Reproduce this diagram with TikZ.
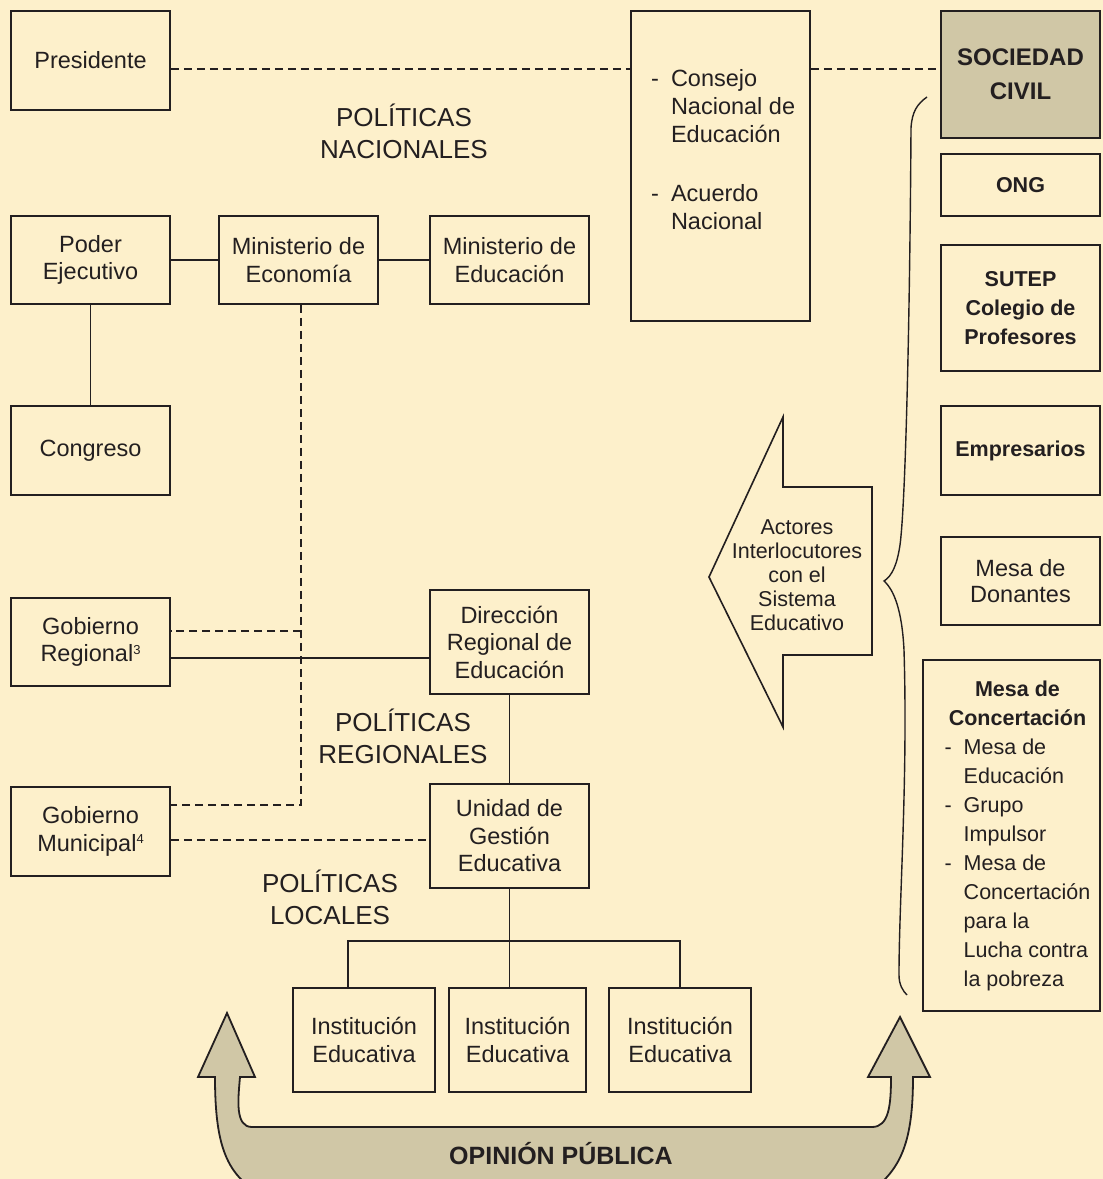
\documentclass[tikz,border=0pt]{standalone}
\usepackage{fontspec}
\setmainfont{Liberation Sans}
\definecolor{paper}{HTML}{FDF0CB}
\definecolor{khaki}{HTML}{D0C7A6}
\definecolor{ink}{HTML}{231F20}

\newcommand{\supnum}[1]{\raisebox{7.5pt}{\fontsize{13}{13}\selectfont #1}}

\tikzset{
  box/.style={draw=ink, line width=1.8pt, inner sep=0pt, align=center, text=ink,
              font=\fontsize{23.5}{27.5}\selectfont},
  boldbox/.style={box, font=\fontsize{21.5}{29}\selectfont\bfseries},
  link/.style={draw=ink, line width=1.7pt},
  dlink/.style={draw=ink, line width=1.5pt, dash pattern=on 8pt off 5pt},
  heading/.style={text=ink, align=center, inner sep=0pt, font=\fontsize{26}{32}\selectfont},
  txt/.style={text=ink, inner sep=0pt},
}

\begin{document}
\begin{tikzpicture}[x=1pt, y=-1pt]
\useasboundingbox (0,0) rectangle (1103,1179);
\fill[paper] (0,0) rectangle (1103,1179);
\clip (0,0) rectangle (1103,1179);

% ---- national level ----
\node[box, minimum width=159pt, minimum height=99pt] (pres) at (90.5,60.5) {Presidente};
\node[box, minimum width=179pt, minimum height=310pt] (consejo) at (720.5,166) {};
\node[txt, anchor=north west, font=\fontsize{23.5}{28}\selectfont] (consejotxt) at (651,67)
  {\begin{tabular}{@{}l@{\hspace{12pt}}l@{}}
   - & Consejo\\ & Nacional de\\ & Educación\\[31pt]
   - & Acuerdo\\ & Nacional
   \end{tabular}};

\node[box, minimum width=159pt, minimum height=88pt] (poder) at (90.5,260) {Poder\\Ejecutivo};
\node[box, minimum width=159pt, minimum height=88pt] (econ) at (298.5,260) {Ministerio de\\Economía};
\node[box, minimum width=159pt, minimum height=88pt] (educ) at (509.5,260) {Ministerio de\\Educación};
\node[box, minimum width=159pt, minimum height=89pt] (cong) at (90.5,450.5) {Congreso};

\node[heading] (polnac) at (404,131) {POLÍTICAS\\NACIONALES};

% ---- regional and local level ----
\node[box, minimum width=159pt, minimum height=88pt] (gobreg) at (90.5,642) {Gobierno\\Regional\supnum{3}};
\node[box, minimum width=159pt, minimum height=104pt] (dre) at (509.5,642) {Dirección\\Regional de\\Educación};
\node[box, minimum width=159pt, minimum height=89pt] (gobmun) at (90.5,831.5) {Gobierno\\Municipal\supnum{4}};
\node[box, minimum width=159pt, minimum height=104pt] (ugel) at (509.5,836) {Unidad de\\Gestión\\Educativa};

\node[heading] (polreg) at (403,736) {POLÍTICAS\\REGIONALES};
\node[heading] (polloc) at (330,897) {POLÍTICAS\\LOCALES};

\node[box, minimum width=142pt, minimum height=104pt] (ie1) at (364,1040) {Institución\\Educativa};
\node[box, minimum width=137pt, minimum height=104pt] (ie2) at (517.5,1040) {Institución\\Educativa};
\node[box, minimum width=142pt, minimum height=104pt] (ie3) at (680,1040) {Institución\\Educativa};

% ---- civil society column ----
\node[box, fill=khaki, minimum width=159pt, minimum height=127pt,
      font=\fontsize{24}{34}\selectfont\bfseries] (soc) at (1020.5,74.5) {SOCIEDAD\\CIVIL};
\node[boldbox, minimum width=159pt, minimum height=62pt] (ong) at (1020.5,185) {ONG};
\node[boldbox, minimum width=159pt, minimum height=126pt] (sutep) at (1020.5,308) {SUTEP\\Colegio de\\Profesores};
\node[boldbox, minimum width=159pt, minimum height=89pt] (emp) at (1020.5,450.5) {Empresarios};
\node[box, minimum width=159pt, minimum height=88pt, font=\fontsize{23.5}{26}\selectfont] (don) at (1020.5,581) {Mesa de\\Donantes};
\node[box, minimum width=177pt, minimum height=351pt, font=\fontsize{21.5}{29}\selectfont] (mesa) at (1011.5,835.5)
  {\begin{tabular}{@{\hspace{12pt}}l@{\hspace{12pt}}l@{}}
   \multicolumn{2}{@{\hspace{12pt}}c@{}}{\bfseries Mesa de}\\
   \multicolumn{2}{@{\hspace{12pt}}c@{}}{\bfseries Concertación}\\
   - & Mesa de\\ & Educación\\
   - & Grupo\\ & Impulsor\\
   - & Mesa de\\ & Concertación\\ & para la\\ & Lucha contra\\ & la pobreza
   \end{tabular}};

% ---- connectors ----
\draw[dlink] ([yshift=-8.5pt]pres.east) -- ([yshift=-8.5pt]pres.east -| consejo.west);
\draw[dlink] ([yshift=-8.5pt]pres.east -| consejo.east) -- ([yshift=-8.5pt]pres.east -| soc.west);

\draw[link] (poder.east) -- (econ.west);
\draw[link] (econ.east) -- (educ.west);
\draw[link] (poder.south) -- (cong.north);

\coordinate (regjoin) at (301,631);
\coordinate (munjoin) at (301,805);
\draw[dlink] ([xshift=2.5pt]econ.south) -- (munjoin) -- (munjoin -| gobmun.east);
\draw[dlink] (regjoin) -- (regjoin -| gobreg.east);

\draw[link] ([yshift=-16pt]gobreg.east) -- ([yshift=-16pt]gobreg.east -| dre.west);
\draw[dlink] ([yshift=-8.5pt]gobmun.east) -- ([yshift=-8.5pt]gobmun.east -| ugel.west);
\draw[link] (dre.south) -- (ugel.north);

\coordinate (bar) at (509.5,941);
\draw[link] (ugel.south) -- (ugel.south |- ie2.north);
\draw[link] ([xshift=-16pt]ie1.north) |- (bar) -| (ie3.north);

% ---- arrow of the interlocutors ----
\draw[ink, line width=1.6pt, line join=miter]
  (709,577) -- (783,417) -- (783,487) -- (872,487) -- (872,655) -- (783,655) -- (783,727) -- cycle;
\node[txt, align=center, font=\fontsize{21.5}{24}\selectfont] (actores) at (797,575)
  {Actores\\Interlocutores\\con el\\Sistema\\Educativo};

% ---- brace gathering the civil society ----
\draw[ink, line width=1.4pt]
  (927,97) .. controls (917,104) and (912,112) .. (911,128)
  .. controls (910,300) and (906,500) .. (900,545)
  .. controls (897,565) and (892,576) .. (884,581)
  .. controls (894,590) and (902,610) .. (904,650)
  .. controls (908,780) and (899,900) .. (899,975)
  .. controls (899,985) and (903,991) .. (907,995);

% ---- public opinion band ----
\draw[ink, fill=khaki, line width=1.8pt, line join=miter]
  (227,1013) -- (255,1077) -- (240,1077)
  .. controls (238,1100) and (235,1127) .. (252,1127) -- (872,1127)
  .. controls (889,1127) and (891,1105) .. (891,1077)
  -- (868,1077) -- (900,1017) -- (930,1077) -- (913,1077)
  .. controls (913,1145) and (900,1175) .. (860,1198) -- (270,1198)
  .. controls (228,1180) and (215,1150) .. (215,1077)
  -- (198,1077) -- cycle;
\node[txt, font=\fontsize{25}{30}\selectfont\bfseries] (opinion) at (561,1154) {OPINIÓN PÚBLICA};
\end{tikzpicture}
\end{document}
